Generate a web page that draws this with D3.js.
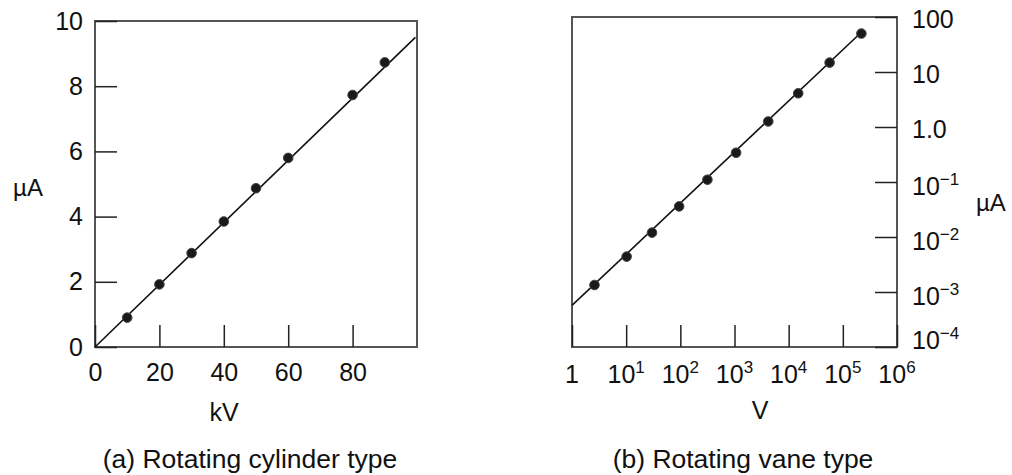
<!DOCTYPE html>
<html>
<head>
<meta charset="utf-8">
<script src="https://cdn.jsdelivr.net/npm/d3@7"></script>
<style>
  body { margin: 0; background: #fff; }
  svg text { font-family: "Liberation Sans", Arial, sans-serif; fill: #111; }
</style>
</head>
<body>
<div id="chart"></div>
<script>
// (a) rotating cylinder type: current (uA) vs voltage (kV)
const cylKV = [10, 20, 30, 40, 50, 60, 80, 90];
const cylUA = [0.9, 1.92, 2.88, 3.85, 4.87, 5.8, 7.73, 8.73];
const cylFitKV = [0, 99.5];
const cylFitUA = [0, 9.5];
const cylXTicks = [0, 20, 40, 60, 80];
const cylYTicks = [0, 2, 4, 6, 8, 10];

// (b) rotating vane type: current (uA) vs voltage (V), log-log
const vaneV = [2.6, 10.2, 30, 95, 316, 1070, 4200, 15000, 57000, 220000];
const vaneUA = [0.00134, 0.0044, 0.012, 0.036, 0.11, 0.34, 1.26, 4.1, 14.8, 50];
const vaneFitV = [1, 230000];
const vaneFitUA = [0.00057, 55];
const vaneXTicks = [1, 1e1, 1e2, 1e3, 1e4, 1e5, 1e6];
const vaneXExp = ["", "1", "2", "3", "4", "5", "6"];
const vaneYTicks = [1e2, 1e1, 1, 1e-1, 1e-2, 1e-3, 1e-4];
const vaneYBase = ["100", "10", "1.0", "10", "10", "10", "10"];
const vaneYExp = ["", "", "", "\u22121", "\u22122", "\u22123", "\u22124"];

const W = 1012, H = 475;
const svg = d3.select("#chart").append("svg")
  .attr("width", W).attr("height", H);

const frameColor = "#555";
const tickLen = 22;
const tickFont = 25;

// ---------- left panel ----------
const gA = svg.append("g");
const xA = d3.scaleLinear().domain([0, 100]).range([95, 417]);
const yA = d3.scaleLinear().domain([0, 10]).range([347, 21]);

gA.append("rect")
  .attr("x", xA(0)).attr("y", yA(10))
  .attr("width", xA(100) - xA(0)).attr("height", yA(0) - yA(10))
  .attr("fill", "none").attr("stroke", frameColor).attr("stroke-width", 2);

const axA_x = gA.append("g")
  .attr("transform", `translate(0,${yA(0)})`)
  .call(d3.axisBottom(xA).tickValues(cylXTicks).tickSize(-tickLen).tickPadding(16)
    .tickFormat(d3.format("d")));
const axA_y = gA.append("g")
  .attr("transform", `translate(${xA(0)},0)`)
  .call(d3.axisLeft(yA).tickValues(cylYTicks).tickSize(-tickLen).tickPadding(12)
    .tickFormat(d3.format("d")));

[axA_x, axA_y].forEach(ax => {
  ax.select(".domain").remove();
  ax.selectAll("line").attr("stroke", "#222").attr("stroke-width", 1.5);
  ax.selectAll("text").attr("font-size", tickFont).attr("fill", "#111");
});

gA.append("path")
  .datum(d3.zip(cylFitKV, cylFitUA))
  .attr("fill", "none").attr("stroke", "#111").attr("stroke-width", 1.6)
  .attr("d", d3.line().x(d => xA(d[0])).y(d => yA(d[1])));

gA.selectAll("circle.pt")
  .data(d3.zip(cylKV, cylUA))
  .join("circle")
  .attr("class", "pt")
  .attr("cx", d => xA(d[0])).attr("cy", d => yA(d[1]))
  .attr("r", 4.8).attr("fill", "#1a1a1a").attr("stroke", "#444").attr("stroke-width", 1);

gA.append("text").attr("x", 28).attr("y", 188).attr("dy", "0.35em")
  .attr("text-anchor", "middle").attr("font-size", 24).text("\u00b5A");
gA.append("text").attr("x", 224).attr("y", 412).attr("dy", "0.35em")
  .attr("text-anchor", "middle").attr("font-size", 25).text("kV");
gA.append("text").attr("x", 250).attr("y", 459).attr("dy", "0.35em")
  .attr("text-anchor", "middle").attr("font-size", 26.5).text("(a) Rotating cylinder type");

// ---------- right panel ----------
const gB = svg.append("g");
const xB = d3.scaleLog().domain([1, 1e6]).range([572, 897]);
const yB = d3.scaleLog().domain([1e-4, 1e2]).range([347, 17]);

gB.append("rect")
  .attr("x", xB(1)).attr("y", yB(1e2))
  .attr("width", xB(1e6) - xB(1)).attr("height", yB(1e-4) - yB(1e2))
  .attr("fill", "none").attr("stroke", frameColor).attr("stroke-width", 2);

const axB_x = gB.append("g")
  .attr("transform", `translate(0,${yB(1e-4)})`)
  .call(d3.axisBottom(xB).tickValues(vaneXTicks).tickSize(-tickLen).tickFormat(""));
const axB_y = gB.append("g")
  .attr("transform", `translate(${xB(1e6)},0)`)
  .call(d3.axisRight(yB).tickValues(vaneYTicks).tickSize(-tickLen).tickFormat(""));

[axB_x, axB_y].forEach(ax => {
  ax.select(".domain").remove();
  ax.selectAll("line").attr("stroke", "#222").attr("stroke-width", 1.5);
});

// x tick labels with superscripts
const xl = gB.selectAll("text.xl")
  .data(d3.zip(vaneXTicks, vaneXExp))
  .join("text")
  .attr("class", "xl")
  .attr("x", d => xB(d[0])).attr("y", 374).attr("dy", "0.35em")
  .attr("text-anchor", "middle").attr("font-size", tickFont);
xl.append("tspan").text(d => d[0] === 1 ? "1" : "10");
xl.append("tspan").attr("dy", -10).attr("font-size", 17).text(d => d[1]);

// y tick labels on right side (bottom one sits a little above its tick)
const yl = gB.selectAll("text.yl")
  .data(d3.zip(vaneYTicks, vaneYBase, vaneYExp))
  .join("text")
  .attr("class", "yl")
  .attr("x", xB(1e6) + 15)
  .attr("y", d => yB(d[0]) + (d[0] === 1e-4 ? -7 : d[2] ? 4 : 2)).attr("dy", "0.35em")
  .attr("text-anchor", "start").attr("font-size", tickFont);
yl.append("tspan").text(d => d[1]);
yl.append("tspan").attr("dy", -10).attr("font-size", 17).text(d => d[2]);

gB.append("path")
  .datum(d3.zip(vaneFitV, vaneFitUA))
  .attr("fill", "none").attr("stroke", "#111").attr("stroke-width", 1.6)
  .attr("d", d3.line().x(d => xB(d[0])).y(d => yB(d[1])));

gB.selectAll("circle.pt")
  .data(d3.zip(vaneV, vaneUA))
  .join("circle")
  .attr("class", "pt")
  .attr("cx", d => xB(d[0])).attr("cy", d => yB(d[1]))
  .attr("r", 4.8).attr("fill", "#1a1a1a").attr("stroke", "#444").attr("stroke-width", 1);

gB.append("text").attr("x", 976).attr("y", 203).attr("dy", "0.35em")
  .attr("text-anchor", "start").attr("font-size", 24).text("\u00b5A");
gB.append("text").attr("x", 760).attr("y", 410).attr("dy", "0.35em")
  .attr("text-anchor", "middle").attr("font-size", 25).text("V");
gB.append("text").attr("x", 743).attr("y", 459).attr("dy", "0.35em")
  .attr("text-anchor", "middle").attr("font-size", 26.5).text("(b) Rotating vane type");
</script>
</body>
</html>
